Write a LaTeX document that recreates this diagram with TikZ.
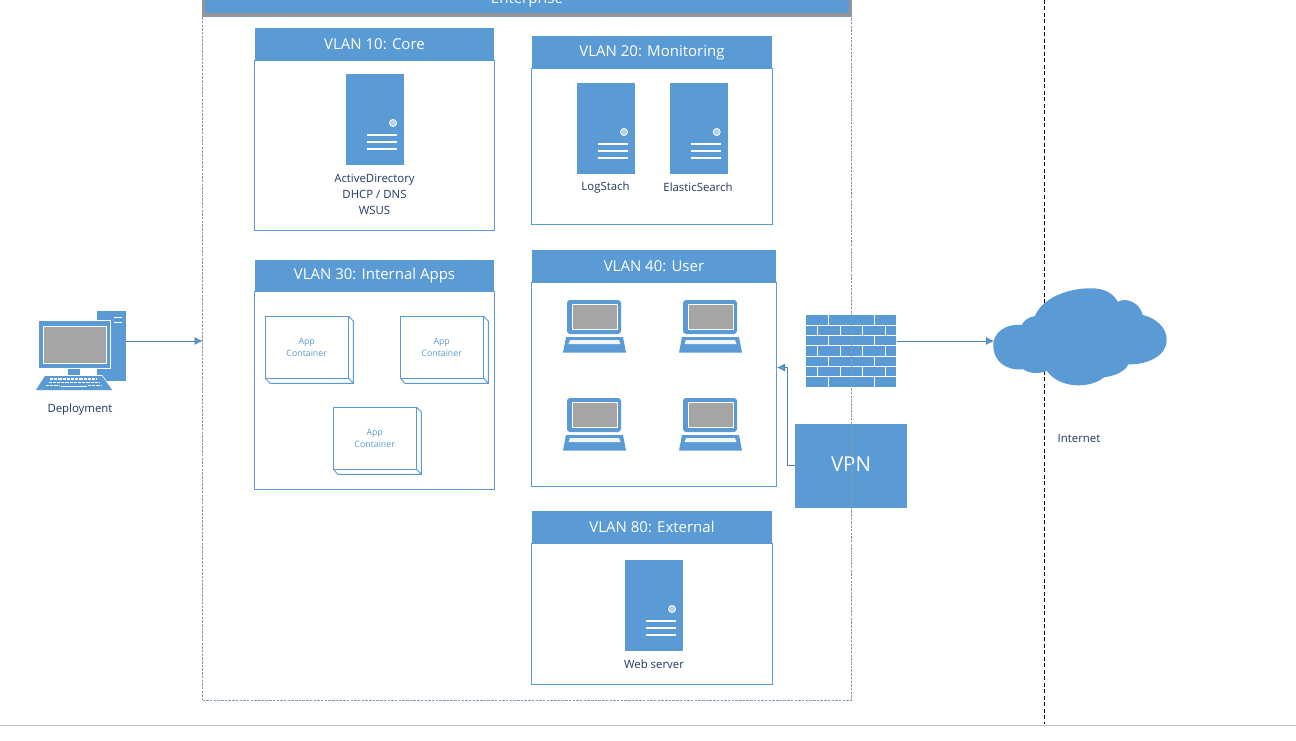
\documentclass[tikz,border=0pt]{standalone}
\usepackage{fontspec}
\setmainfont{Open Sans}
\usetikzlibrary{fit,arrows.meta}
\definecolor{bl}{HTML}{5B9BD5}
\definecolor{navy}{HTML}{1F3864}
\definecolor{gr}{HTML}{A5A5A5}
\definecolor{edge}{HTML}{7F9AB2}
\tikzset{
  px/.style={inner sep=0pt,outer sep=0pt},
  solidblue/.style={px,fill=bl,draw=none},
  header/.style={solidblue,text=white,font=\fontsize{15}{18}\selectfont},
  vlanbox/.style={px,draw=bl,line width=0.9pt},
  lbl/.style={px,text=navy,align=center,font=\fontsize{11.4}{16}\selectfont},
  applbl/.style={px,text=bl,align=center,font=\fontsize{8.8}{12}\selectfont},
  conn/.style={draw=bl!85!black,line width=0.8pt,-{Latex[length=8pt,width=8pt,fill=bl]}},
  whiteln/.style={draw=white,line width=1pt},
  serverln/.style={draw=white,line width=1.5pt},
}
\newcommand{\fitbox}[6]{\node[#6,fit={(#2,#3)(#4,#5)}] (#1) {};}
\newcommand{\serverico}[3]{\begin{scope}[shift={(#2,#3)}]
  \node[solidblue,fit={(0,0)(58,91)}] (#1) {};
  \fill[fill=bl!45!white,draw=white,line width=0.7pt] (47,49) circle (3.6pt);
  \draw[serverln] (21,61)--(51,61) (21,68)--(51,68) (21,75)--(51,75);
\end{scope}}
\newcommand{\laptopico}[3]{\begin{scope}[shift={(#2,#3)}]
  \fill[bl,rounded corners=3pt] (4,34)--(4,0)--(58,0)--(58,34)--cycle;
  \node[px,fill=gr,draw=white,line width=1pt,fit={(9.5,4.5)(54,29)}] (#1) {};
  \fill[bl] (3,37)--(60,37)--(63,52.5)--(0,52.5)--cycle;
  \fill[white!90!bl] (7,40)--(56,40)--(57.5,44)--(5.5,44)--cycle;
\end{scope}}
\newcommand{\containerbox}[3]{\begin{scope}[shift={(#2,#3)}]
  \draw[bl,line width=0.9pt] (83.4,0)--(88,4.7)--(88,67)--(4.7,67)--(0,62)
     (83.4,62)--(88,67);
  \node[px,draw=bl,line width=0.9pt,fit={(0,0)(83.4,62)}] (#1) {};
  \node[applbl] (#1t) at (41.3,31) {App\\Container};
\end{scope}}
\begin{document}
\begin{tikzpicture}[x=1pt,y=-1pt]
\useasboundingbox (0,0) rectangle (1296,741);
\fill[white] (0,0) rectangle (1296,741);
% page bottom rule
\coordinate (ruleL) at (0,725.5);
\coordinate (ruleR) at (1296,725.5);
\draw[color=black!25,line width=1pt] (ruleL)--(ruleR);
% internet boundary
\coordinate (bndT) at (1044.5,0);
\coordinate (bndB) at (1044.5,724);
\draw[black,line width=1pt,dash pattern=on 4pt off 2.5pt] (bndT)--(bndB);
% enterprise header
\fitbox{entborder}{202}{-10}{851.5}{16.7}{px,fill=black!42}
\fitbox{enthead}{205}{-10}{848.7}{13.5}{solidblue}
\node[px,text=white,font=\fontsize{15}{18}\selectfont] (enttext) at (527,0) {Enterprise};
% VLAN 10
\fitbox{v10}{254.5}{60}{494.5}{230.5}{vlanbox}
\fitbox{v10h}{255}{28}{494}{61}{solidblue}
\node[header] (v10t) at (374.5,44.3) {VLAN 10: Core};
\serverico{s1}{346}{74}
\node[lbl] (s1t) at (374.5,194.5) {ActiveDirectory\\DHCP / DNS\\WSUS};
% VLAN 20
\fitbox{v20}{531.5}{68}{772.5}{224.5}{vlanbox}
\fitbox{v20h}{532}{36}{772}{69}{solidblue}
\node[header] (v20t) at (652,52.3) {VLAN 20: Monitoring};
\serverico{s2}{577}{83}
\serverico{s3}{669.7}{83}
\node[lbl] (s2t) at (605.5,187.5) {LogStach};
\node[lbl] (s3t) at (698,187.5) {ElasticSearch};
% VLAN 30
\fitbox{v30}{254.5}{291}{494.5}{489.5}{vlanbox}
\fitbox{v30h}{255}{260}{494}{292}{solidblue}
\node[header] (v30t) at (374.5,275.8) {VLAN 30: Internal Apps};
\containerbox{c1}{265.4}{316.4}
\containerbox{c2}{400.4}{316.4}
\containerbox{c3}{333.4}{407.4}
% VLAN 40
\fitbox{v40}{531.5}{282}{776.5}{486.5}{vlanbox}
\fitbox{v40h}{532}{250}{776}{283}{solidblue}
\node[header] (v40t) at (654,265.8) {VLAN 40: User};
\laptopico{l1}{563}{300}
\laptopico{l2}{679}{300}
\laptopico{l3}{563}{398}
\laptopico{l4}{679}{398}
% VLAN 80
\fitbox{v80}{531.5}{543}{772.5}{684.5}{vlanbox}
\fitbox{v80h}{532}{511}{772}{544}{solidblue}
\node[header] (v80t) at (652,527) {VLAN 80: External};
\serverico{s4}{625}{560}
\node[lbl] (s4t) at (654,664.5) {Web server};
% deployment computer
\fitbox{tower}{97}{311}{126}{381}{solidblue}
\draw[whiteln] (114,317)--(122,317) (114,322)--(122,322);
\fill[bl,draw=white,line width=1pt] (38.5,320.5) rectangle (110,368.5);
\fitbox{neck}{68}{368.5}{80}{376}{solidblue}
\node[px,fill=gr,draw=white,line width=1pt,fit={(43,326)(106,363.5)}] (scr) {};
\fill[bl,draw=white,line width=0.8pt] (45,375.5)--(102,375.5)--(113,390.5)--(35.5,390.5)--cycle;
\fill[bl] (45,376)--(102,376)--(112,390)--(36,390)--cycle;
\draw[white,line width=1.3pt,dash pattern=on 3.2pt off 1pt] (50,379)--(97,379) (48.5,382.3)--(99,382.3) (46,385.6)--(60,385.6) (88,385.6)--(102,385.6);
\draw[white,line width=1.3pt] (61,386.8)--(87,386.8);
\node[lbl] (deptxt) at (80,409.5) {Deployment};
% firewall
\fitbox{fw}{806}{315}{896}{387}{solidblue}
\foreach \yy in {325.3,335.6,345.9,356.2,366.5,376.8}{\draw[whiteln] (806,\yy)--(896,\yy);}
\foreach \yy in {315,335.6,356.2,376.8}{\draw[whiteln] (828,\yy)--(828,\yy+10.3) (874,\yy)--(874,\yy+10.3);}
\foreach \yy in {325.3,345.9,366.5}{\draw[whiteln] (817,\yy)--(817,\yy+10.3) (840,\yy)--(840,\yy+10.3) (862,\yy)--(862,\yy+10.3) (885,\yy)--(885,\yy+10.3);}
% VPN
\node[solidblue,fit={(795,424)(907,508)}] (vpn) {};
\node[px,text=white,font=\fontsize{20.5}{24}\selectfont] (vpnt) at (851,464) {VPN};
% cloud
\fill[bl] (993.3,346.7)
  .. controls (992,333) and (1006,323) .. (1021.7,325)
  .. controls (1024,320) and (1029,317) .. (1035,316)
  .. controls (1042,298) and (1068,288.3) .. (1090,288.3)
  .. controls (1104,288) and (1113,293) .. (1117.7,301.7)
  .. controls (1127,297) and (1140,303) .. (1142.7,315)
  .. controls (1156,318) and (1167,328) .. (1166.7,340)
  .. controls (1167,355) and (1148,365) .. (1128.3,364.3)
  .. controls (1125,372) and (1114,376) .. (1104,377.3)
  .. controls (1092,388) and (1060,390) .. (1046.7,370.7)
  .. controls (1040,374) and (1030,374) .. (1023.3,369.3)
  .. controls (1007,371) and (994,362) .. (993.3,346.7) -- cycle;
\coordinate (cloudin) at (994,341);
\node[lbl] (nettxt) at (1079,438.5) {Internet};
% enterprise dashed frame
\node[px,draw=edge,line width=0.9pt,dash pattern=on 2.5pt off 1.2pt,fit={(202.5,16)(851.5,700)}] (ent) {};
% connectors
\coordinate (compout) at (126,341);
\coordinate (entin) at (202.5,341);
\coordinate (fwout) at (897,341);
\coordinate (vpnout) at (795,465);
\coordinate (vpnbend) at (787.5,465);
\coordinate (v40in) at (777,367.5);
\draw[conn] (compout)--(entin);
\draw[conn] (fwout)--(cloudin);
\draw[conn] (vpnout)--(vpnbend)--(vpnbend|-v40in)--(v40in);
\end{tikzpicture}
\end{document}
